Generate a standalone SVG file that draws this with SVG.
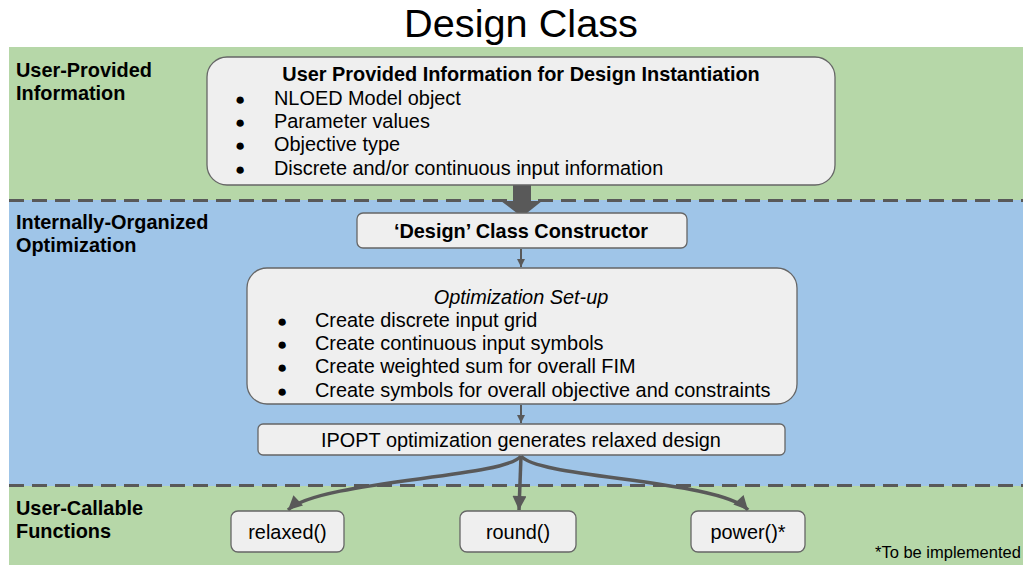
<svg xmlns="http://www.w3.org/2000/svg" width="1023" height="565" viewBox="0 0 1023 565">
<defs>
<style>
.t{font-family:"Liberation Sans",Arial,sans-serif;fill:#000}
.box{fill:#efefef;stroke:#666;stroke-width:1.3}
.dash{stroke:#595959;stroke-width:3;stroke-dasharray:15 8;fill:none}
.lbl{font-size:19.9px;font-weight:bold}
.body{font-size:19.9px}
.bul{font-size:17px}
.conn{stroke:#595959;fill:none}
</style>
<marker id="ahs" viewBox="0 0 10 10" refX="10" refY="5" markerWidth="8" markerHeight="8" markerUnits="userSpaceOnUse" orient="auto"><path d="M0,0 L10,5 L0,10 z" fill="#595959"/></marker>
<marker id="ahl" viewBox="0 0 10 10" refX="10" refY="5" markerWidth="16" markerHeight="14" markerUnits="userSpaceOnUse" orient="auto"><path d="M0,0 L10,5 L0,10 z" fill="#595959"/></marker>
</defs>
<rect width="1023" height="565" fill="#fff"/>
<text class="t" x="521" y="37" font-size="39.7" text-anchor="middle">Design Class</text>
<g id="bands">
<rect x="9" y="47" width="1014" height="153" fill="#b6d7a8"/>
<rect x="9" y="200" width="1014" height="286" fill="#9fc5e8"/>
<rect x="9" y="486" width="1014" height="79" fill="#b6d7a8"/>
<line class="dash" x1="9" y1="200.5" x2="1023" y2="200.5"/>
<line class="dash" x1="9" y1="485.5" x2="1023" y2="485.5"/>
</g>
<g id="band-labels">
<text class="t lbl" x="16" y="77">User-Provided</text>
<text class="t lbl" x="16" y="100">Information</text>
<text class="t lbl" x="16" y="229">Internally-Organized</text>
<text class="t lbl" x="16" y="252">Optimization</text>
<text class="t lbl" x="16" y="515">User-Callable</text>
<text class="t lbl" x="16" y="538">Functions</text>
</g>
<g id="connectors">
<path d="M513,185 L531,185 L531,201 L542,201 L522,217 L501,201 L513,201 z" fill="#595959"/>
<line class="conn" x1="521" y1="249" x2="521" y2="267" stroke-width="2" marker-end="url(#ahs)"/>
<line class="conn" x1="521" y1="405" x2="521" y2="423" stroke-width="2" marker-end="url(#ahs)"/>
<path class="conn" d="M521,456 C505,478 320,480 288,510" stroke-width="3.5" marker-end="url(#ahl)"/>
<path class="conn" d="M521,456 L519,510" stroke-width="3.5" marker-end="url(#ahl)"/>
<path class="conn" d="M521,456 C537,478 720,480 748,510" stroke-width="3.5" marker-end="url(#ahl)"/>
</g>
<g id="user-info">
<rect class="box" x="207" y="57" width="628" height="128" rx="20"/>
<text class="t lbl" x="521" y="81" text-anchor="middle">User Provided Information for Design Instantiation</text>
<g class="t body">
<text class="bul" x="235" y="105">●</text><text x="274" y="105">NLOED Model object</text>
<text class="bul" x="235" y="128">●</text><text x="274" y="128">Parameter values</text>
<text class="bul" x="235" y="151">●</text><text x="274" y="151">Objective type</text>
<text class="bul" x="235" y="175">●</text><text x="274" y="175">Discrete and/or continuous input information</text>
</g>
</g>
<g id="constructor">
<rect class="box" x="357" y="213" width="330" height="35" rx="6"/>
<text class="t lbl" x="521" y="238" text-anchor="middle">‘Design’ Class Constructor</text>
</g>
<g id="setup">
<rect class="box" x="247" y="268" width="550" height="136" rx="20"/>
<text class="t body" x="521" y="304" text-anchor="middle" font-style="italic">Optimization Set-up</text>
<g class="t body">
<text class="bul" x="277" y="327">●</text><text x="315" y="327">Create discrete input grid</text>
<text class="bul" x="277" y="350">●</text><text x="315" y="350">Create continuous input symbols</text>
<text class="bul" x="277" y="373">●</text><text x="315" y="373">Create weighted sum for overall FIM</text>
<text class="bul" x="277" y="397">●</text><text x="315" y="397">Create symbols for overall objective and constraints</text>
</g>
</g>
<g id="ipopt">
<rect class="box" x="258" y="424" width="527" height="31" rx="5"/>
<text class="t body" x="521" y="447" text-anchor="middle">IPOPT optimization generates relaxed design</text>
</g>
<g id="relaxed">
<rect class="box" x="231" y="511" width="113" height="41" rx="7"/>
<text class="t body" x="287.5" y="539" text-anchor="middle">relaxed()</text>
</g>
<g id="round">
<rect class="box" x="460" y="511" width="116" height="41" rx="7"/>
<text class="t body" x="518" y="539" text-anchor="middle">round()</text>
</g>
<g id="power">
<rect class="box" x="691" y="511" width="114" height="41" rx="7"/>
<text class="t body" x="748" y="539" text-anchor="middle">power()*</text>
</g>
<text class="t" x="875" y="558" font-size="16.5">*To be implemented</text>
</svg>
